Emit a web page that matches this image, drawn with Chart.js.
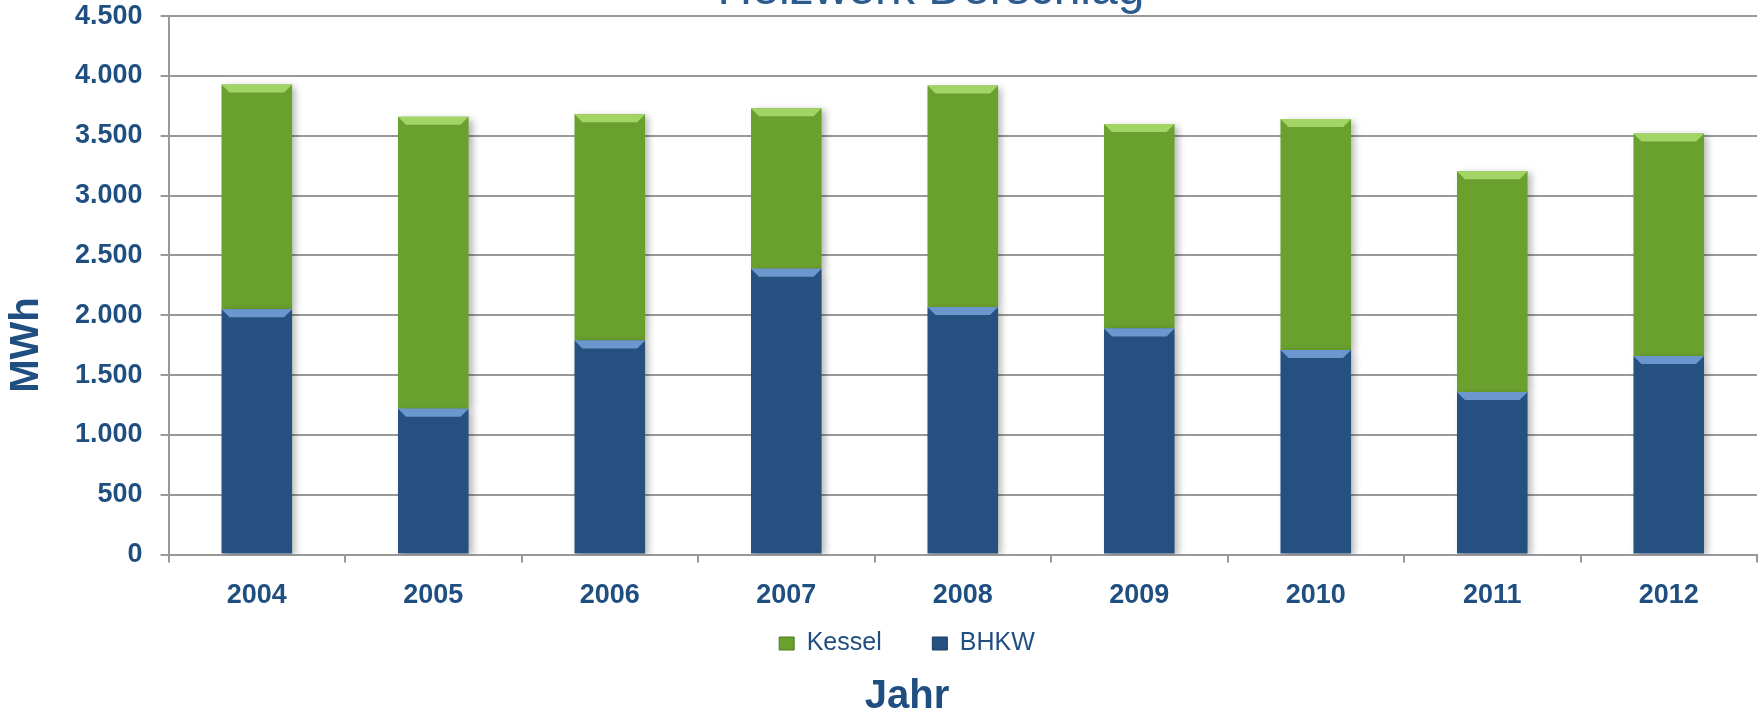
<!DOCTYPE html>
<html>
<head>
<meta charset="utf-8">
<script src="https://cdn.jsdelivr.net/npm/chart.js@4"></script>
<style>
  html, body { margin: 0; padding: 0; background: #fff; }
  #wrap { width: 1761px; height: 715px; position: relative; overflow: hidden; }
  /* canvas starts a bit above the page so the plot can reach the top edge */
  #chart { position: absolute; left: 0; top: -18px; }
</style>
</head>
<body>
<div id="wrap"><canvas id="chart" width="1761" height="733"></canvas></div>
<script>
// values (MWh)
const years = ['2004', '2005', '2006', '2007', '2008', '2009', '2010', '2011', '2012'];
const bhkw = [2050, 1220, 1790, 2390, 2070, 1890, 1710, 1360, 1660];
const kessel = [1880, 2440, 1890, 1340, 1850, 1710, 1930, 1845, 1860];

const SHIFT = 18;
const FONT = '"Liberation Sans", Arial, sans-serif';
const textBlue = '#1f4e80';
const baseCols = ['#25507f', '#6aa12e'];
const darkCols = ['#1a3b60', '#4f7b1f'];
const lightCols = ['rgba(110,155,210,0.95)', 'rgba(165,215,105,0.95)'];

function barGradient(ctx) {
  const i = ctx.datasetIndex;
  const bar = ctx.element;
  if (!bar || !ctx.chart.chartArea) return baseCols[i];
  const w = bar.width;
  if (!Number.isFinite(bar.x) || !Number.isFinite(w) || w <= 0) return baseCols[i];
  const g = ctx.chart.ctx.createLinearGradient(bar.x - w / 2, 0, bar.x + w / 2, 0);
  g.addColorStop(0, darkCols[i]);
  g.addColorStop(0.09, baseCols[i]);
  g.addColorStop(0.9, baseCols[i]);
  g.addColorStop(1, darkCols[i]);
  return g;
}

// soft shadow behind the bars and a light bevel on top of each segment
const bevel = {
  id: 'bevel',
  beforeDatasetsDraw(chart) {
    const c = chart.ctx;
    c.save();
    c.shadowColor = 'rgba(0,0,0,0.28)';
    c.shadowBlur = 7;
    c.shadowOffsetX = 4;
    c.shadowOffsetY = 2;
  },
  afterDatasetsDraw(chart) {
    const c = chart.ctx;
    c.restore();
    chart.data.datasets.forEach((ds, i) => {
      chart.getDatasetMeta(i).data.forEach(bar => {
        const half = bar.width / 2;
        const d = 8;
        c.save();
        c.fillStyle = lightCols[i];
        c.beginPath();
        c.moveTo(bar.x - half, bar.y);
        c.lineTo(bar.x + half, bar.y);
        c.lineTo(bar.x + half - d, bar.y + d);
        c.lineTo(bar.x - half + d, bar.y + d);
        c.closePath();
        c.fill();
        c.restore();
      });
    });
  }
};

// chart title is cut off at the top edge, axis title is set lower than centre
const extraText = {
  id: 'extraText',
  afterDraw(chart) {
    const c = chart.ctx;
    c.save();
    c.font = '48px ' + FONT;
    c.fillStyle = '#2a5a8e';
    c.textAlign = 'center';
    c.textBaseline = 'alphabetic';
    c.fillText('Heizwerk Derschlag', 931, 4 + SHIFT);
    c.translate(27, 345 + SHIFT);
    c.rotate(-Math.PI / 2);
    c.font = 'bold 40px ' + FONT;
    c.fillStyle = textBlue;
    c.textBaseline = 'middle';
    c.fillText('MWh', 0, 0);
    c.restore();
  }
};

const ctx = document.getElementById('chart');
const myChart = new Chart(ctx, {
  type: 'bar',
  data: {
    labels: years,
    datasets: [
      {
        label: 'BHKW',
        data: bhkw,
        backgroundColor: barGradient,
        barPercentage: 0.4,
        categoryPercentage: 1.0
      },
      {
        label: 'Kessel',
        data: kessel,
        backgroundColor: barGradient,
        barPercentage: 0.4,
        categoryPercentage: 1.0
      }
    ]
  },
  options: {
    responsive: false,
    animation: false,
    devicePixelRatio: 1,
    layout: { padding: { top: 0, right: 4, left: 57, bottom: 0 } },
    scales: {
      x: {
        stacked: true,
        grid: { display: true, drawOnChartArea: false, drawTicks: true, tickLength: 8, color: '#999999', lineWidth: 2, offset: true },
        border: { display: true, color: '#999999', width: 2 },
        ticks: { color: textBlue, font: { family: FONT, size: 27, weight: 'bold' }, padding: 17 }
      },
      y: {
        stacked: true,
        min: 0,
        max: 4500,
        grid: { color: '#999999', lineWidth: 2, tickLength: 8 },
        border: { display: true, color: '#999999', width: 2 },
        ticks: {
          stepSize: 500,
          color: textBlue,
          padding: 18,
          font: { family: FONT, size: 27, weight: 'bold' },
          callback: v => v.toLocaleString('de-DE')
        }
      }
    },
    plugins: {
      legend: {
        position: 'bottom',
        reverse: true,
        labels: {
          color: textBlue,
          boxWidth: 15,
          boxHeight: 13,
          padding: 2,
          font: { family: FONT, size: 25 },
          generateLabels(chart) {
            const items = Chart.defaults.plugins.legend.labels.generateLabels(chart);
            items.forEach(it => {
              it.fillStyle = baseCols[it.datasetIndex];
              it.strokeStyle = darkCols[it.datasetIndex];
              it.lineWidth = 1;
              if (it.text === 'Kessel') it.text = 'Kessel' + '\u00a0'.repeat(7);
            });
            return items;
          }
        }
      },
      title: {
        display: true,
        position: 'bottom',
        text: 'Jahr',
        color: textBlue,
        font: { family: FONT, size: 40, weight: 'bold', lineHeight: 0.9 },
        padding: { top: 13, bottom: 0 }
      },
      tooltip: { enabled: false }
    }
  },
  plugins: [bevel, extraText]
});
</script>
</body>
</html>
